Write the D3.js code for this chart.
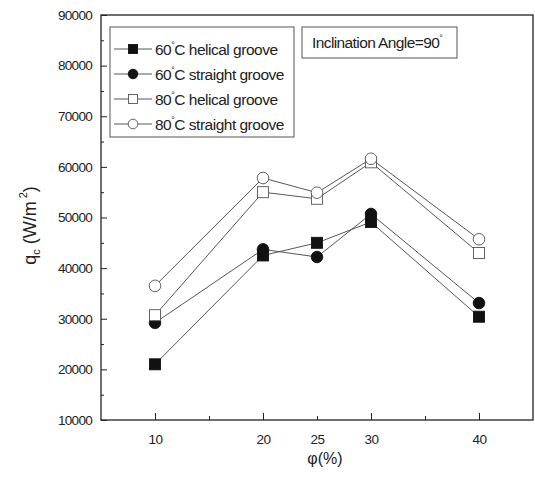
<!DOCTYPE html>
<html>
<head>
<meta charset="utf-8">
<script src="https://cdn.jsdelivr.net/npm/d3@7"></script>
<style>
  body { margin: 0; background: #fff; }
  svg { display: block; font-family: "Liberation Sans", Arial, sans-serif; }
</style>
</head>
<body>
<svg id="chart"></svg>
<script>
// phi (%) values on the x axis
const phi = [10, 20, 25, 30, 40];
const xTicks = [10, 15, 20, 25, 30, 35, 40];
const xLabels = [10, 20, 25, 30, 40];

// q_c (W/m2) per series
const helical60 = [21000, 42500, 45000, 49100, 30400];
const straight60 = [29200, 43700, 42200, 50700, 33100];
const helical80 = [30700, 55000, 53700, 60900, 43000];
const straight80 = [36500, 57800, 54900, 61600, 45700];

const seriesNames = ['60°C helical groove', '60°C straight groove', '80°C helical groove', '80°C straight groove'];
const seriesValues = [helical60, straight60, helical80, straight80];
const seriesShapes = ['square', 'circle', 'square', 'circle'];
const seriesFilled = [true, true, false, false];

const width = 535;
const height = 492;
const margin = { top: 15, right: 2, bottom: 72, left: 101 };

const svg = d3.select('#chart')
    .attr('width', width)
    .attr('height', height);

const x = d3.scaleLinear()
    .domain([5, 45])
    .range([margin.left, width - margin.right]);

const y = d3.scaleLinear()
    .domain([10000, 90000])
    .range([height - margin.bottom, margin.top]);

const ink = '#222';

// y axis: major ticks every 10000, minor every 5000, pointing inward
const yAxis = svg.append('g')
    .attr('transform', `translate(${margin.left},0)`)
    .call(d3.axisLeft(y)
        .tickValues(d3.range(10000, 90001, 10000))
        .tickSize(-6)
        .tickPadding(9)
        .tickFormat(d3.format('d')));
yAxis.select('.domain').remove();
yAxis.selectAll('line').attr('stroke', ink);
yAxis.selectAll('text')
    .attr('font-size', 13.5)
    .attr('fill', ink)
    .attr('letter-spacing', -0.7);

svg.append('g')
    .attr('transform', `translate(${margin.left},0)`)
    .call(d3.axisLeft(y)
        .tickValues(d3.range(15000, 90000, 10000))
        .tickSize(-3)
        .tickFormat(''))
    .call(g => g.select('.domain').remove())
    .selectAll('line').attr('stroke', ink);

// x axis: ticks pointing inward
const xAxis = svg.append('g')
    .attr('transform', `translate(0,${y(10000)})`)
    .call(d3.axisBottom(x)
        .tickValues(xTicks)
        .tickSize(-6)
        .tickPadding(14)
        .tickFormat(d => xLabels.includes(d) ? d : ''));
xAxis.select('.domain').remove();
xAxis.selectAll('line')
    .attr('stroke', ink)
    .attr('y2', d => xLabels.includes(d) && d !== 25 ? -7 : -4);
xAxis.selectAll('text')
    .attr('font-size', 13.5)
    .attr('fill', ink)
    .attr('letter-spacing', -0.6);

// frame
svg.append('rect')
    .attr('x', x(5))
    .attr('y', y(90000))
    .attr('width', x(45) - x(5))
    .attr('height', y(10000) - y(90000))
    .attr('fill', 'none')
    .attr('stroke', ink)
    .attr('stroke-width', 1.3);

// axis titles
const yTitle = svg.append('text')
    .attr('transform', `translate(36,${(y(90000) + y(10000)) / 2 + 8}) rotate(-90)`)
    .attr('text-anchor', 'middle')
    .attr('font-size', 18)
    .attr('fill', ink);
yTitle.append('tspan').text('q');
yTitle.append('tspan').attr('font-size', 11).attr('dy', 4).text('c');
yTitle.append('tspan').attr('dy', -4).text(' (W/m');
yTitle.append('tspan').attr('font-size', 11).attr('dy', -9).text(' 2');
yTitle.append('tspan').attr('dy', 9).text(')');

svg.append('text')
    .attr('x', 325)
    .attr('y', 464)
    .attr('text-anchor', 'middle')
    .attr('font-size', 16)
    .attr('fill', ink)
    .text('φ(%)');

// series lines and markers
const line = d3.line()
    .x((d, i) => x(phi[i]))
    .y(d => y(d));

function drawMarker(g, shape, filled) {
    if (shape === 'square') {
        g.append('rect')
            .attr('x', -5.5).attr('y', -5.5)
            .attr('width', 11).attr('height', 11);
    } else {
        g.append('circle').attr('r', 5.8);
    }
    g.selectAll('rect, circle')
        .attr('fill', filled ? '#111' : '#fff')
        .attr('stroke', filled ? '#111' : '#555')
        .attr('stroke-width', 0.9);
}

seriesValues.forEach((vals, s) => {
    svg.append('path')
        .datum(vals)
        .attr('d', line)
        .attr('fill', 'none')
        .attr('stroke', '#444')
        .attr('stroke-width', 0.9);
});

seriesValues.forEach((vals, s) => {
    svg.append('g').selectAll('g')
        .data(vals)
        .join('g')
            .attr('transform', (d, i) => `translate(${x(phi[i])},${y(d)})`)
            .each(function() { drawMarker(d3.select(this), seriesShapes[s], seriesFilled[s]); });
});

// legend
const legend = svg.append('g');
legend.append('rect')
    .attr('x', 110).attr('y', 27)
    .attr('width', 184).attr('height', 110)
    .attr('fill', '#fff')
    .attr('stroke', '#555')
    .attr('stroke-width', 1);

seriesNames.forEach((name, s) => {
    const row = legend.append('g')
        .attr('transform', `translate(0,${49 + s * 25})`);
    row.append('line')
        .attr('x1', 114).attr('x2', 152)
        .attr('stroke', '#444')
        .attr('stroke-width', 0.9);
    const m = row.append('g').attr('transform', 'translate(133,0)');
    drawMarker(m, seriesShapes[s], seriesFilled[s]);
    m.select('rect').attr('x', -4.5).attr('y', -4.5).attr('width', 9).attr('height', 9);
    m.select('circle').attr('r', 4.8);
    const t = row.append('text')
        .attr('x', 155).attr('y', 5.5)
        .attr('font-size', 15.5)
        .attr('fill', ink)
        .attr('letter-spacing', -0.5);
    const parts = name.split('°');
    t.append('tspan').text(parts[0]);
    t.append('tspan').attr('font-size', 9).attr('dy', -7).text('°');
    t.append('tspan').attr('dy', 7).text(parts[1]);
});

// inclination note
const note = svg.append('g');
note.append('rect')
    .attr('x', 302).attr('y', 27)
    .attr('width', 155).attr('height', 31)
    .attr('fill', '#fff')
    .attr('stroke', '#555')
    .attr('stroke-width', 1);
const nt = note.append('text')
    .attr('x', 312).attr('y', 48)
    .attr('font-size', 15.5)
    .attr('fill', ink)
    .attr('letter-spacing', -0.6);
nt.append('tspan').text('Inclination Angle=90');
nt.append('tspan').attr('font-size', 9).attr('dy', -7).text('°');
</script>
</body>
</html>
